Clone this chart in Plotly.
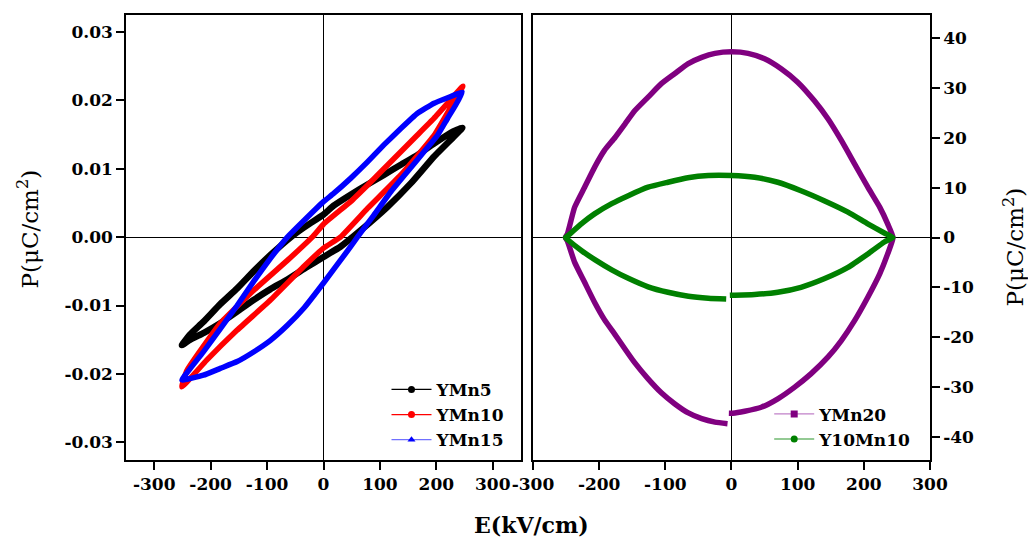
import plotly.graph_objects as go

# ---- P-E loops, left panel (P in uC/cm^2, E in kV/cm) ----
# Each loop: ascending branch from the negative tip, then descending branch back.
ymn5_e = [-251, -236, -212, -183, -153, -124, -94, -64, -30, 0, 30, 66, 113, 155, 196, 231, 246,
          226, 196, 166, 137, 107, 78, 48, 18, 0, -35, -58, -94, -124, -153, -183, -213, -236, -251]
ymn5_p = [-0.0158, -0.0150, -0.0140, -0.0126, -0.0109, -0.0092, -0.0076, -0.0062, -0.0044, -0.0029,
          -0.0014, 0.0010, 0.0044, 0.0079, 0.0118, 0.0147, 0.0160,
          0.0153, 0.0137, 0.0120, 0.0106, 0.0091, 0.0077, 0.0062, 0.0046, 0.0033, 0.0014, 0.0000,
          -0.0026, -0.0050, -0.0075, -0.0098, -0.0124, -0.0142, -0.0158]

ymn10_e = [-251, -207, -153, -94, -35, 0, 30, 78, 137, 196, 231, 247,
           220, 196, 166, 137, 107, 78, 48, 0, -20, -64, -124, -183, -242, -251]
ymn10_p = [-0.0219, -0.0180, -0.0136, -0.0092, -0.0043, -0.0016, 0.0000, 0.0042, 0.0091, 0.0149,
           0.0198, 0.0221,
           0.0196, 0.0174, 0.0149, 0.0125, 0.0100, 0.0076, 0.0052, 0.0019, 0.0000, -0.0034,
           -0.0078, -0.0126, -0.0195, -0.0219]

ymn15_e = [-251, -213, -183, -153, -124, -94, -64, -35, 0, 48, 60, 89, 119, 149, 178, 202, 220, 234, 246,
           220, 196, 166, 137, 107, 78, 48, 18, 0, -35, -64, -94, -124, -153, -183, -213, -236, -251]
ymn15_p = [-0.0209, -0.0202, -0.0192, -0.0182, -0.0168, -0.0151, -0.0129, -0.0104, -0.0067, -0.0014,
           0.0000, 0.0032, 0.0066, 0.0096, 0.0125, 0.0149, 0.0174, 0.0193, 0.0212,
           0.0204, 0.0196, 0.0181, 0.0159, 0.0135, 0.0110, 0.0086, 0.0064, 0.0052, 0.0024, 0.0000,
           -0.0031, -0.0065, -0.0100, -0.0134, -0.0168, -0.0192, -0.0209]

# ---- right panel loops: lower-right branch, upper branch, then lower-left branch ----
ymn20_e = [-4, 2, 20, 45, 70, 95, 120, 146, 166, 186, 206, 224, 236, 244,
           236, 224, 206, 186, 166, 146, 125, 100, 75, 50, 25, 0,
           -25, -45, -66, -86, -106, -126, -146, -161, -176, -192, -207, -222, -237, -248, -251,
           -248, -237, -222, -207, -192, -176, -161, -146, -126, -106, -86, -66, -45, -25, -6]
ymn20_p = [-35.3, -35.3, -34.9, -34.1, -32.4, -30.1, -27.4, -24.0, -20.7, -16.7, -12.0, -7.3, -3.3, 0.0,
           2.75, 6.1, 10.1, 14.8, 19.5, 23.8, 27.5, 31.2, 33.9, 35.9, 37.0, 37.3,
           37.0, 36.2, 34.9, 32.9, 30.9, 28.2, 25.5, 22.8, 20.1, 17.5, 14.1, 10.1, 6.1, 0.7, 0.0,
           -0.7, -5.0, -9.0, -13.0, -16.5, -19.5, -22.4, -25.2, -28.4, -31.2, -33.4, -35.2, -36.4,
           -37.1, -37.4]

y10mn10_e = [-2.5, 35, 70, 105, 140, 176, 206, 231, 244,
             231, 206, 176, 140, 105, 70, 35, 0, -35, -66, -96, -126, -156, -181, -207, -227, -247, -251,
             -247, -227, -206, -181, -156, -126, -96, -65, -35, -8]
y10mn10_p = [-11.6, -11.45, -11.0, -10.0, -8.3, -6.0, -3.3, -0.9, 0.0,
             0.9, 2.75, 5.1, 7.4, 9.4, 11.1, 12.1, 12.45, 12.45, 12.0, 11.1, 10.1, 8.4, 6.8, 4.75,
             2.75, 0.4, 0.0,
             -0.5, -2.6, -4.5, -6.5, -8.2, -9.9, -11.0, -11.8, -12.2, -12.35]

x_ticks = [-300, -200, -100, 0, 100, 200, 300]
x_tick_text = ["-300", "-200", "-100", "0", "100", "200", "300"]
left_p_ticks = [-0.03, -0.02, -0.01, 0.00, 0.01, 0.02, 0.03]
left_p_text = ["-0.03", "-0.02", "-0.01", "0.00", "0.01", "0.02", "0.03"]
right_p_ticks = [-40, -30, -20, -10, 0, 10, 20, 30, 40]
right_p_text = ["-40", "-30", "-20", "-10", "0", "10", "20", "30", "40"]

SERIF = "DejaVu Serif"
tick_font = dict(family=SERIF, size=17, color="black", weight="bold")

fig = go.Figure()

left_series = [
    ("YMn5", ymn5_e, ymn5_p, "#000000", "#000000", "circle", 6.5),
    ("YMn10", ymn10_e, ymn10_p, "#ff0000", "#ff0000", "circle", 5.5),
    ("YMn15", ymn15_e, ymn15_p, "#0000ff", "#7070ff", "triangle-up", 5.5),
]
right_series = [
    ("YMn20", ymn20_e, ymn20_p, "#800080", "#c080c8", "square", 5.5),
    ("Y10Mn10", y10mn10_e, y10mn10_p, "#008000", "#70b870", "circle", 5.5),
]

for name, e, p, col, _, _, w in left_series:
    fig.add_trace(go.Scatter(x=e, y=p, mode="lines", xaxis="x", yaxis="y", showlegend=False,
                             line=dict(color=col, width=w, shape="spline", smoothing=0.35)))
for name, e, p, col, _, _, w in right_series:
    fig.add_trace(go.Scatter(x=e, y=p, mode="lines", xaxis="x2", yaxis="y2", showlegend=False,
                             line=dict(color=col, width=w, shape="spline", smoothing=0.5)))

# legend keys (thin line with a marker)
for name, _, _, col, lcol, sym, _ in left_series:
    fig.add_trace(go.Scatter(x=[None], y=[None], mode="lines+markers", name=name, xaxis="x", yaxis="y",
                             legend="legend", line=dict(color=lcol, width=1.3),
                             marker=dict(color=col, symbol=sym, size=7)))
for name, _, _, col, lcol, sym, _ in right_series:
    fig.add_trace(go.Scatter(x=[None], y=[None], mode="lines+markers", name=name, xaxis="x2", yaxis="y2",
                             legend="legend2", line=dict(color=lcol, width=1.3),
                             marker=dict(color=col, symbol=sym, size=7)))

axis_common = dict(showline=True, linecolor="black", linewidth=1.5, mirror=True, ticks="outside",
                   ticklen=8, tickwidth=1.5, tickcolor="black", showgrid=False,
                   zeroline=True, zerolinecolor="black", zerolinewidth=1.3, tickfont=tick_font)

legend_font = dict(family=SERIF, size=17, color="black", weight="bold")

fig.update_layout(
    width=1028, height=539,
    margin=dict(l=126, r=98, t=15, b=79),
    paper_bgcolor="white", plot_bgcolor="white",
    xaxis=dict(domain=[0, 0.4913], range=[-350, 350], tickvals=x_ticks, ticktext=x_tick_text,
               anchor="y", **axis_common),
    yaxis=dict(domain=[0, 1], range=[-0.0326, 0.0325], tickvals=left_p_ticks, ticktext=left_p_text,
               anchor="x", **axis_common),
    xaxis2=dict(domain=[0.5062, 1], range=[-300, 300], tickvals=x_ticks, ticktext=x_tick_text,
                anchor="y2", **axis_common),
    yaxis2=dict(domain=[0, 1], range=[-44.7, 44.7], tickvals=right_p_ticks, ticktext=right_p_text,
                side="right", anchor="x2", **axis_common),
    legend=dict(x=0.324, y=0.198, xanchor="left", yanchor="top", bgcolor="rgba(0,0,0,0)",
                font=legend_font, tracegroupgap=0, itemwidth=40),
    legend2=dict(x=0.800, y=0.143, xanchor="left", yanchor="top", bgcolor="rgba(0,0,0,0)",
                 font=legend_font, tracegroupgap=0, itemwidth=40),
    annotations=[
        dict(text="P(μC/cm<sup>2</sup>)", xref="paper", yref="paper", x=-0.122, y=0.52,
             textangle=-90, showarrow=False, xanchor="center", yanchor="middle",
             font=dict(family=SERIF, size=23, color="black")),
        dict(text="P(μC/cm<sup>2</sup>)", xref="paper", yref="paper", x=1.104, y=0.479,
             textangle=-90, showarrow=False, xanchor="center", yanchor="middle",
             font=dict(family=SERIF, size=23, color="black")),
        dict(text="E(kV/cm)", xref="paper", yref="paper", x=0.504, y=-0.146,
             showarrow=False, xanchor="center", yanchor="middle",
             font=dict(family=SERIF, size=22, color="black", weight="bold")),
    ],
)

fig.write_html("out.html")
